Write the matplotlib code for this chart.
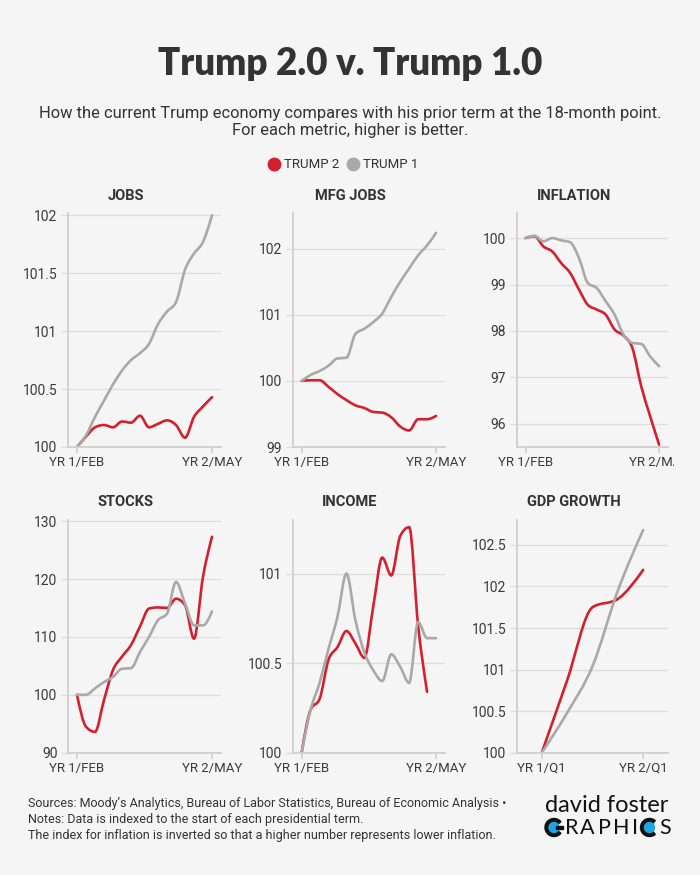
import matplotlib
matplotlib.use("Agg")
import matplotlib.pyplot as plt
from matplotlib.path import Path
from matplotlib.patches import PathPatch, Circle, Wedge, Rectangle
from matplotlib.lines import Line2D
from matplotlib.transforms import Bbox
import numpy as np

# monthly values, YR 1/FEB .. YR 2/MAY (GDP is quarterly)
jobs_t2 = [100, 100.09, 100.17, 100.19, 100.17, 100.22, 100.21, 100.27, 100.17, 100.20, 100.23, 100.19, 100.08, 100.26, 100.35, 100.43]
jobs_t1 = [100, 100.10, 100.26, 100.40, 100.54, 100.66, 100.75, 100.81, 100.89, 101.06, 101.17, 101.25, 101.53, 101.67, 101.77, 102.0]
mfg_t2 = [100, 100.01, 100.01, 99.91, 99.80, 99.71, 99.63, 99.59, 99.53, 99.52, 99.45, 99.31, 99.25, 99.42, 99.42, 99.47]
mfg_t1 = [100, 100.09, 100.15, 100.23, 100.34, 100.35, 100.71, 100.79, 100.89, 101.02, 101.27, 101.50, 101.70, 101.90, 102.05, 102.24]
infl_t2 = [100, 100.04, 99.82, 99.71, 99.46, 99.25, 98.89, 98.56, 98.46, 98.35, 98.03, 97.90, 97.63, 96.80, 96.16, 95.55]
infl_t1 = [100, 100.05, 99.93, 100.0, 99.95, 99.91, 99.57, 99.03, 98.92, 98.64, 98.35, 97.92, 97.74, 97.72, 97.45, 97.24]
stocks_t2 = [100, 94.5, 93.6, 99.1, 104.3, 106.6, 108.6, 111.8, 114.9, 115.1, 115.0, 116.6, 115.5, 109.7, 120.4, 127.3]
stocks_t1 = [100, 100, 101.1, 102.2, 103.1, 104.5, 104.6, 107.4, 110.0, 112.9, 114.0, 119.5, 115.8, 112.0, 112.0, 114.4]
income_t2 = [100, 100.24, 100.30, 100.52, 100.59, 100.68, 100.61, 100.53, 100.82, 101.09, 100.99, 101.21, 101.26, 100.71, 100.34]
income_t1 = [100, 100.24, 100.39, 100.58, 100.76, 101.0, 100.74, 100.56, 100.46, 100.40, 100.55, 100.48, 100.39, 100.73, 100.64, 100.64]
gdp_t2 = [100, 100.87, 101.75, 101.85, 102.2]
gdp_t1 = [100, 100.48, 101.04, 101.95, 102.68]

panel_titles = ["JOBS", "MFG JOBS", "INFLATION", "STOCKS", "INCOME", "GDP GROWTH"]
month_ticks = ["YR 1/FEB", "YR 2/MAY"]
quarter_ticks = ["YR 1/Q1", "YR 2/Q1"]
yticks = [
    [100, 100.5, 101, 101.5, 102],
    [99, 100, 101, 102],
    [96, 97, 98, 99, 100],
    [90, 100, 110, 120, 130],
    [100, 100.5, 101],
    [100, 100.5, 101, 101.5, 102, 102.5],
]
ylims = [(100, 102.02), (99, 102.54), (95.5, 100.54), (90, 130.2), (100, 101.30), (100, 102.8)]

RED = "#d3202f"
GRAY = "#a9a9a9"
BG = "#f5f5f5"
TXT = "#333333"
BLUE = "#1ea4e2"
COND = ["Liberation Sans Narrow", "Roboto", "DejaVu Sans"]


def monotone_path(x, y):
    # monotone cubic (like d3.curveMonotoneX) drawn as bezier segments
    x = np.asarray(x, float)
    y = np.asarray(y, float)
    h = np.diff(x)
    d = np.diff(y) / h
    m = np.zeros(len(x))
    for i in range(1, len(x) - 1):
        if d[i - 1] * d[i] <= 0:
            m[i] = 0
        else:
            p = (d[i - 1] * h[i] + d[i] * h[i - 1]) / (h[i - 1] + h[i])
            m[i] = np.sign(d[i]) * min(2 * abs(d[i - 1]), 2 * abs(d[i]), abs(p))
    m[0] = (3 * d[0] - m[1]) / 2 if len(x) > 2 else d[0]
    m[-1] = (3 * d[-1] - m[-2]) / 2 if len(x) > 2 else d[-1]
    verts = [(x[0], y[0])]
    codes = [Path.MOVETO]
    for i in range(len(x) - 1):
        verts += [(x[i] + h[i] / 3, y[i] + m[i] * h[i] / 3),
                  (x[i + 1] - h[i] / 3, y[i + 1] - m[i + 1] * h[i] / 3),
                  (x[i + 1], y[i + 1])]
        codes += [Path.CURVE4] * 3
    return Path(verts, codes)


def draw_line(ax, vals, color):
    patch = PathPatch(monotone_path(np.arange(len(vals)), vals), fill=False,
                      edgecolor=color, lw=1.9, capstyle="round", joinstyle="round")
    ax.add_patch(patch)


fig = plt.figure(figsize=(7, 8.75), dpi=100, facecolor=BG)

fig.text(0.5, 1 - 64 / 875, "Trump 2.0 v. Trump 1.0", ha="center", va="center",
         fontsize=26.5, fontweight="heavy", color=TXT, family=["Lato", "DejaVu Sans"])
fig.text(0.5, 1 - 122 / 875,
         "How the current Trump economy compares with his prior term at the 18-month point.\n"
         "For each metric, higher is better.",
         ha="center", va="center", fontsize=11.9, color=TXT, family=COND, linespacing=1.2)

handles = [Line2D([], [], marker="o", ls="none", color=RED, markersize=9),
           Line2D([], [], marker="o", ls="none", color=GRAY, markersize=9)]
fig.legend(handles, ["TRUMP 2", "TRUMP 1"], loc="center", ncol=2, frameon=False,
           bbox_to_anchor=(0.49, 1 - 165 / 875), handlelength=0.9, handletextpad=0.3,
           columnspacing=0.6, prop={"family": COND, "size": 9.5}, labelcolor=TXT)

lefts = [68 / 700, 292.7 / 700, 516.7 / 700]
widths = [153 / 700, 152.3 / 700, 151.3 / 700]
bottoms = [1 - 447 / 875, 1 - 752.7 / 875]
heights = [234 / 875, 232.7 / 875]
title_x = [126 / 700, 350 / 700, 574 / 700]
title_y = [1 - 196 / 875, 1 - 502 / 875]

series = [(jobs_t2, jobs_t1), (mfg_t2, mfg_t1), (infl_t2, infl_t1),
          (stocks_t2, stocks_t1), (income_t2, income_t1), (gdp_t2, gdp_t1)]

for k, (t2, t1) in enumerate(series):
    row, col = divmod(k, 3)
    ax = fig.add_axes([lefts[col], bottoms[row], widths[col], heights[row]])
    ax.set_facecolor(BG)
    draw_line(ax, t2, RED)
    draw_line(ax, t1, GRAY)

    if k == 5:
        ax.set_xlim(-0.99, 4.98)
        ax.set_xticks([0, len(t1) - 1])
        ax.set_xticklabels(quarter_ticks)
    else:
        ax.set_xlim(-1.0, 16.0)
        ax.set_xticks([0, 15])
        ax.set_xticklabels(month_ticks)
    ax.set_ylim(*ylims[k])
    ax.set_yticks(yticks[k])
    ax.set_yticklabels(["%g" % v for v in yticks[k]])
    ax.grid(axis="y", color="#dedede", lw=1)
    ax.set_axisbelow(True)
    for s in ["top", "right"]:
        ax.spines[s].set_visible(False)
    for s in ["left", "bottom"]:
        ax.spines[s].set_color("#cfcfcf")
        ax.spines[s].set_linewidth(1.3)
    ax.tick_params(axis="y", length=5, width=1, color="#dedede", pad=2.5,
                   labelsize=10, labelcolor="#3a3a3a")
    ax.tick_params(axis="x", length=4, width=1.2, color="#cfcfcf", pad=2.5,
                   labelsize=9.5, labelcolor="#3a3a3a")
    for lab in ax.get_xticklabels() + ax.get_yticklabels():
        lab.set_family(COND)
    if col == 2:
        # right edge of the graphic cuts the last label
        for lab in ax.get_xticklabels():
            lab.set_clip_on(True)
            lab.set_clip_box(Bbox.from_extents(0, 0, 674, 875))

    fig.text(title_x[col], title_y[row], panel_titles[k], ha="center", va="center",
             fontsize=10.5, fontweight="bold", color=TXT, family=COND)

fig.text(28 / 700, 1 - 820 / 875,
         "Sources: Moody\u2019s Analytics, Bureau of Labor Statistics, Bureau of Economic Analysis \u2022\n"
         "Notes: Data is indexed to the start of each presidential term.\n"
         "The index for inflation is inverted so that a higher number represents lower inflation.",
         ha="left", va="center", fontsize=9, color=TXT, family=COND, linespacing=1.3)

# logo
fig.text(607 / 700, 1 - 806 / 875, "david foster", ha="center", va="center",
         fontsize=17, color="#111111", family=["Lato", "DejaVu Sans"])
for letter, lx in [("R", 565), ("A", 580), ("P", 598), ("H", 613), ("I", 632), ("S", 659)]:
    fig.text(lx / 700, 1 - 827.5 / 875, letter, ha="left", va="center",
             fontsize=15.5, color="#111111", family=["Lato", "DejaVu Sans"])
for cx, gap in [(554, 40), (649.5, 50)]:
    cy = 875 - 827.5
    ring = Wedge((cx / 100, cy / 100), 0.09, gap, 360 - gap, width=0.035,
                 color="#111111", transform=fig.dpi_scale_trans)
    fig.patches.append(ring)
    fig.patches.append(Circle((cx / 100, cy / 100), 0.05, color=BLUE,
                              transform=fig.dpi_scale_trans))
# bar of the G
fig.patches.append(Rectangle((5.56, (cy - 1.5) / 100), 0.07, 0.03, color="#111111",
                             transform=fig.dpi_scale_trans))

fig.savefig("out.png", dpi=100, facecolor=BG)
